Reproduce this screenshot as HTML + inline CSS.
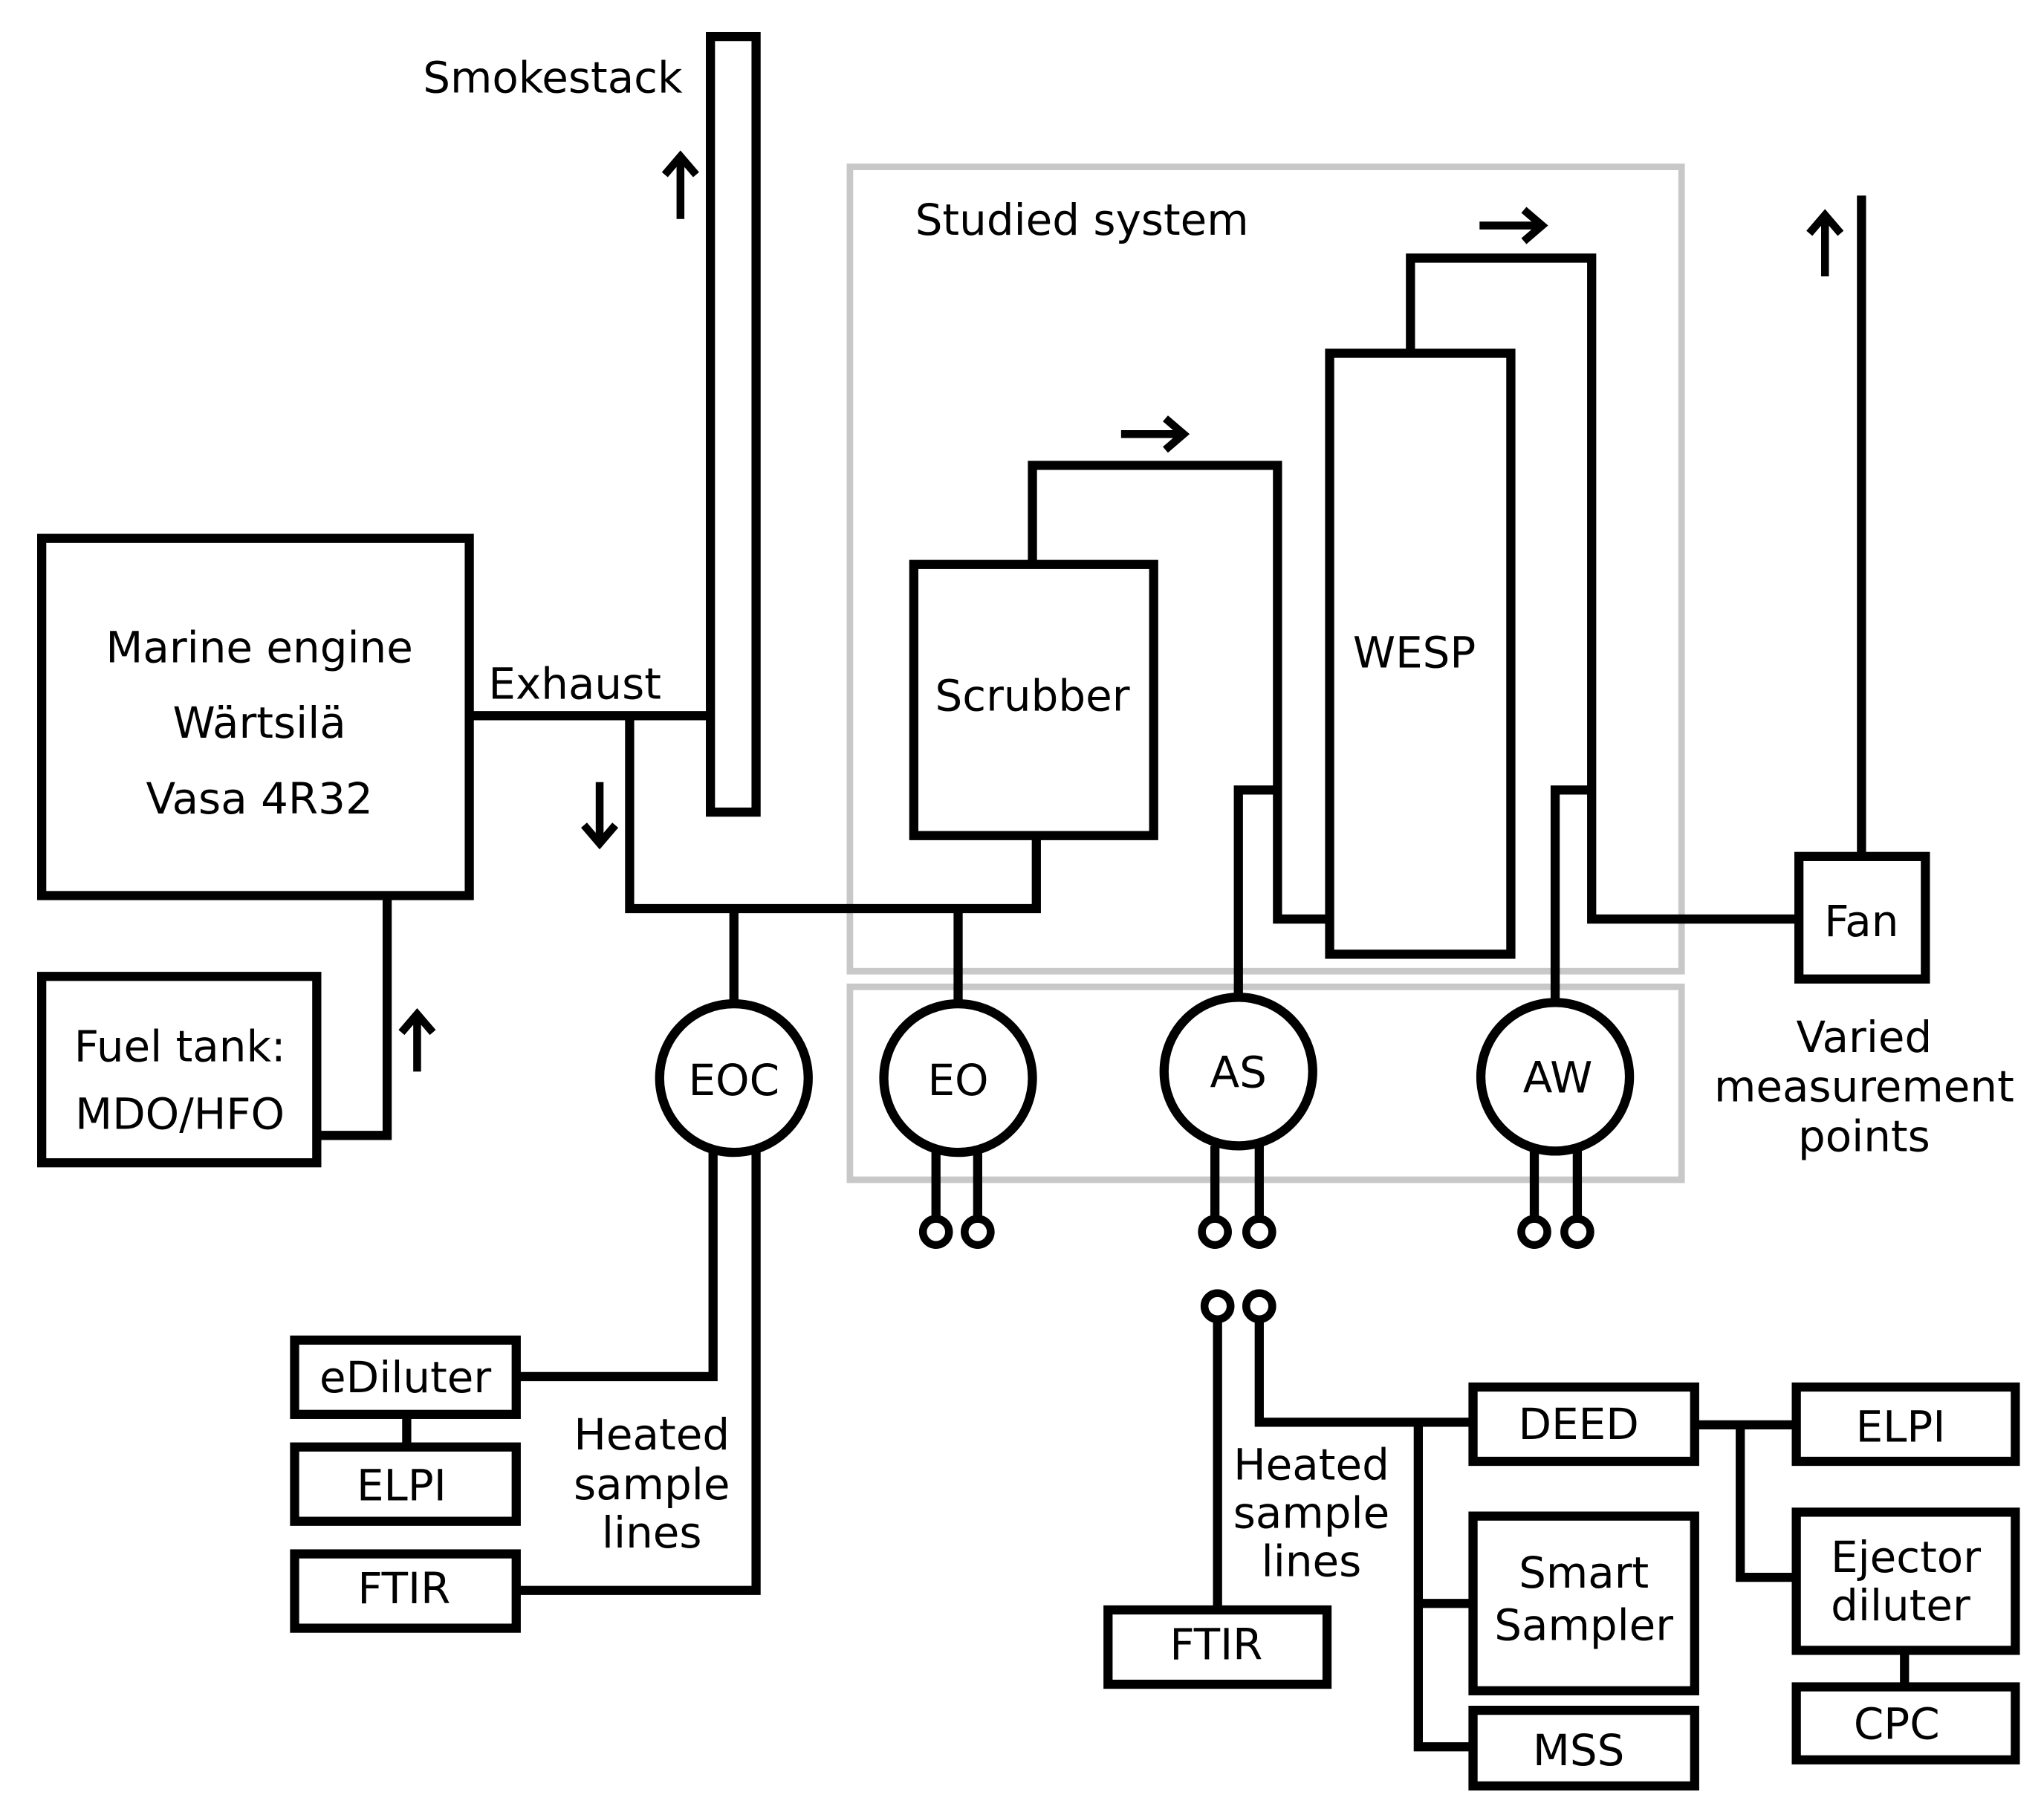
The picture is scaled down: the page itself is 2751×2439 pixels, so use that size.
<!DOCTYPE html>
<html><head><meta charset="utf-8"><style>
html,body{margin:0;padding:0;background:#fff;}
svg{display:block}
text{font-family:"DejaVu Sans","Liberation Sans",sans-serif;font-size:33px;fill:#000;text-anchor:middle;}
</style></head><body>
<svg width="2751" height="2439" viewBox="0 0 1568 1390" preserveAspectRatio="none" xmlns="http://www.w3.org/2000/svg">
<rect width="1568" height="1390" fill="#fff"/>
<g fill="none" stroke="#c8c8c8" stroke-width="5">
<rect x="652" y="128" width="638" height="617"/>
<rect x="652" y="757" width="638" height="148"/>
</g>
<g fill="none" stroke="#000" stroke-width="7" stroke-linejoin="miter">
<rect x="545" y="28" width="35" height="595"/>
<rect x="32" y="413" width="328" height="274"/>
<rect x="32" y="749" width="211" height="143"/>
<rect x="701" y="433" width="184" height="208"/>
<rect x="1020" y="271" width="139" height="461"/>
<rect x="1380" y="657" width="97" height="94"/>
<path d="M360 549H545M483 549V697H795V641"/>
<path d="M792 433V357H980V705H1020"/>
<path d="M1082 271V198H1221V705H1380"/>
<path d="M1428 657V150"/>
<path d="M243 871H297V687"/>
<path d="M563 697V769M735 697V769"/>
<path d="M950 764V606H980M1193 768V606H1221"/>
<circle cx="563" cy="827" r="57"/>
<circle cx="735" cy="827" r="57"/>
<circle cx="950" cy="822" r="57"/>
<circle cx="1193" cy="826" r="57"/>
<path d="M718 884V935M750 884V935M932 879V935M966 879V935M1177 883V935M1210 883V935"/>
<g stroke-width="6">
<circle cx="718" cy="945" r="10"/><circle cx="750" cy="945" r="10"/>
<circle cx="932" cy="945" r="10"/><circle cx="966" cy="945" r="10"/>
<circle cx="1177" cy="945" r="10"/><circle cx="1210" cy="945" r="10"/>
<circle cx="934" cy="1002" r="10"/><circle cx="966" cy="1002" r="10"/>
</g>
<path d="M547 884V1056H396M580 884V1220H396M312 1085V1110"/>
<rect x="226" y="1028" width="170" height="57"/>
<rect x="226" y="1110" width="170" height="57"/>
<rect x="226" y="1192" width="170" height="57"/>
<path d="M934 1012V1235M966 1012V1091H1130M1088 1091V1340H1130M1088 1230H1130"/>
<rect x="850" y="1235" width="168" height="57"/>
<rect x="1130" y="1064" width="170" height="57"/>
<rect x="1130" y="1163" width="170" height="134"/>
<rect x="1130" y="1312" width="170" height="58"/>
<path d="M1300 1093H1378M1335 1093V1210H1378M1461 1266V1294"/>
<rect x="1378" y="1064" width="168" height="57"/>
<rect x="1378" y="1160" width="168" height="106"/>
<rect x="1378" y="1294" width="168" height="56"/>
<g stroke-width="6">
<path d="M522 168V120M510 134L522 120L534 134"/>
<path d="M460 600V647M448 633L460 647L472 633"/>
<path d="M320 822V778M308 792L320 778L332 792"/>
<path d="M1400 212V165M1388 179L1400 165L1412 179"/>
<path d="M860 333H908M894 321L908 333L894 345"/>
<path d="M1135 173H1183M1169 161L1183 173L1169 185"/>
</g>
</g>
<text x="424" y="71">Smokestack</text>
<text x="830" y="180">Studied system</text>
<text x="199" y="508">Marine engine</text>
<text x="199" y="566">Wärtsilä</text>
<text x="199" y="624">Vasa 4R32</text>
<text x="441" y="536">Exhaust</text>
<text x="792" y="545">Scrubber</text>
<text x="1085" y="512">WESP</text>
<text x="1428" y="718">Fan</text>
<text x="1430" y="807">Varied</text>
<text x="1430" y="845">measurement</text>
<text x="1430" y="883">points</text>
<text x="138" y="814">Fuel tank:</text>
<text x="138" y="866">MDO/HFO</text>
<text x="563" y="840">EOC</text>
<text x="735" y="840">EO</text>
<text x="950" y="834">AS</text>
<text x="1195" y="838">AW</text>
<text x="311" y="1068">eDiluter</text>
<text x="308" y="1151">ELPI</text>
<text x="310" y="1230">FTIR</text>
<text x="500" y="1112">Heated</text>
<text x="500" y="1150">sample</text>
<text x="500" y="1187">lines</text>
<text x="1006" y="1135">Heated</text>
<text x="1006" y="1172">sample</text>
<text x="1006" y="1209">lines</text>
<text x="933" y="1273">FTIR</text>
<text x="1211" y="1104">DEED</text>
<text x="1215" y="1218">Smart</text>
<text x="1215" y="1258">Sampler</text>
<text x="1211" y="1354">MSS</text>
<text x="1458" y="1106">ELPI</text>
<text x="1462" y="1206">Ejector</text>
<text x="1458" y="1243">diluter</text>
<text x="1455" y="1334">CPC</text>
</svg>
</body></html>
